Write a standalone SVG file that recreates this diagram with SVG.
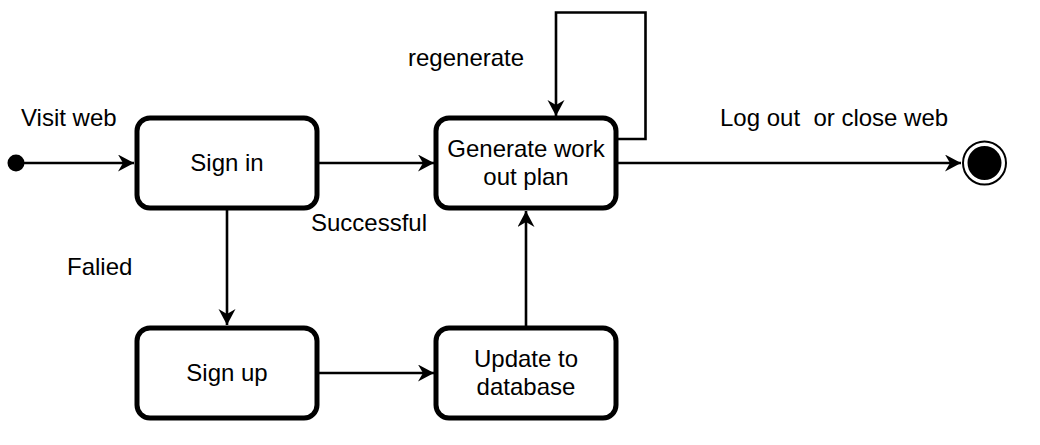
<svg xmlns="http://www.w3.org/2000/svg" width="1040" height="445" viewBox="0 0 1040 445">
<defs>
<style>
.node{fill:#fff;stroke:#000;stroke-width:5}
.lbl{font-family:"Liberation Sans",Arial,sans-serif;font-size:24px;fill:#000;white-space:pre}
.c{text-anchor:middle}
.edge{fill:none;stroke:#000;stroke-width:2.6}
</style>
<marker id="arr" markerUnits="userSpaceOnUse" markerWidth="18" markerHeight="18" refX="16" refY="8.5" orient="auto">
<path d="M0,0 L16,8.5 L0,17 L5,8.5 Z" fill="#000"/>
</marker>
</defs>
<rect width="1040" height="445" fill="#fff"/>
<g id="connectors">
<circle id="start" cx="16" cy="163" r="8.5" fill="#000"/>
<path class="edge" d="M16,163 H134" marker-end="url(#arr)"/>
<path class="edge" d="M318,163 H434" marker-end="url(#arr)"/>
<path class="edge" d="M618,163 H961" marker-end="url(#arr)"/>
<path class="edge" d="M227,210 V325" marker-end="url(#arr)"/>
<path class="edge" d="M318,373 H434" marker-end="url(#arr)"/>
<path class="edge" d="M526,326 V211" marker-end="url(#arr)"/>
<path class="edge" d="M618,139 H645.5 V12.5 H556 V116" marker-end="url(#arr)"/>
</g>
<g id="end">
<circle cx="984.5" cy="163" r="21.5" fill="#fff" stroke="#000" stroke-width="2"/>
<circle cx="984.5" cy="163" r="17" fill="#000"/>
</g>
<g id="signin">
<rect class="node" x="137" y="118" width="180" height="90" rx="13"/>
<text class="lbl c" x="227" y="171">Sign in</text>
</g>
<g id="generate">
<rect class="node" x="436" y="118" width="180" height="90" rx="13"/>
<text class="lbl c" x="526" y="157">Generate work</text>
<text class="lbl c" x="526" y="185">out plan</text>
</g>
<g id="signup">
<rect class="node" x="137" y="328" width="180" height="90" rx="13"/>
<text class="lbl c" x="227" y="381">Sign up</text>
</g>
<g id="update">
<rect class="node" x="436" y="328" width="180" height="90" rx="13"/>
<text class="lbl c" x="526" y="367">Update to</text>
<text class="lbl c" x="526" y="395">database</text>
</g>
<g id="labels">
<text class="lbl" x="21" y="126">Visit web</text>
<text class="lbl" x="408" y="66">regenerate</text>
<text class="lbl" x="720" y="126">Log out  or close web</text>
<text class="lbl" x="311" y="231">Successful</text>
<text class="lbl" x="67" y="275">Falied</text>
</g>
</svg>
